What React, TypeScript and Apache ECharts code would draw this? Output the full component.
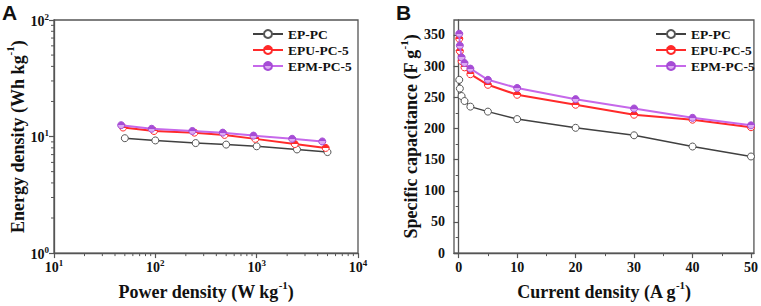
import React, { useEffect, useRef } from "react";
import * as echarts from "echarts";

// ---------- Panel A data (Ragone plot) ----------
const powerEP = [50, 100, 250, 500, 1000, 2500, 5000];
const energyEP = [9.68, 9.26, 8.79, 8.53, 8.25, 7.75, 7.36];
const powerEPU = [48, 97, 243, 482, 970, 2380, 4800];
const energyEPU = [11.95, 11.16, 10.8, 10.33, 9.55, 8.62, 7.99];
const powerEPM = [46, 92, 232, 463, 930, 2240, 4440];
const energyEPM = [12.52, 11.66, 11.16, 10.8, 10.19, 9.57, 9.08];
const minorTicksXA = [20, 30, 40, 50, 60, 70, 80, 90, 200, 300, 400, 500, 600, 700, 800, 900, 2000, 3000, 4000, 5000, 6000, 7000, 8000, 9000];
const minorTicksYA = [2, 3, 4, 5, 6, 7, 8, 9, 20, 30, 40, 50, 60, 70, 80, 90];

// ---------- Panel B data (rate capability) ----------
const currentB = [0.1, 0.2, 0.5, 1, 2, 5, 10, 20, 30, 40, 50];
const capEP = [278, 264, 252, 244, 235, 227, 215, 201, 189, 171, 155];
const capEPU = [344, 324, 308, 298, 287, 270, 254, 238, 222, 214, 202];
const capEPM = [352, 333, 314, 305, 296, 278, 265, 247, 232, 217, 205];
const xTicksB = [0, 10, 20, 30, 40, 50];
const xMinorB = [5, 15, 25, 35, 45];
const yTicksB = [0, 50, 100, 150, 200, 250, 300, 350];
const yMinorB = [25, 75, 125, 175, 225, 275, 325];

const names = ["EP-PC", "EPU-PC-5", "EPM-PC-5"];

const SERIF = "'Liberation Serif', 'Times New Roman', serif";
const AXIS = "#555";
const TXT = "#111";

function half(top: string, bottom: string) {
  return new echarts.graphic.LinearGradient(0, 0, 0, 1, [
    { offset: 0, color: top },
    { offset: 0.5, color: top },
    { offset: 0.5, color: bottom },
    { offset: 1, color: bottom },
  ]);
}

const styles = [
  { line: "#404040", width: 1.5, fill: "#ffffff", border: "#555555" },
  { line: "#ff2a2a", width: 2, fill: null as any, border: "#ff2a2a", top: "#ff2a2a", bottom: "#ffffff" },
  { line: "#c668ea", width: 2, fill: null as any, border: "#a64cd6", top: "#a64cd6", bottom: "#dcaaf2" },
];

function markerColor(i: number) {
  const s: any = styles[i];
  return s.fill ? s.fill : half(s.top, s.bottom);
}

const tickRich = {
  b: { fontFamily: SERIF, fontWeight: "bold", fontSize: 14, color: TXT, lineHeight: 16, verticalAlign: "bottom" },
  s: { fontFamily: SERIF, fontWeight: "bold", fontSize: 9, color: TXT, lineHeight: 9, verticalAlign: "top" },
};
const nameRich = {
  t: { fontFamily: SERIF, fontWeight: "bold", fontSize: 18, color: TXT, lineHeight: 22, verticalAlign: "bottom" },
  s: { fontFamily: SERIF, fontWeight: "bold", fontSize: 11, color: TXT, lineHeight: 11, verticalAlign: "top" },
};

const logLabel = (v: number) => `{b|10}{s|${Math.round(Math.log10(v))}}`;

export default function App() {
  const ref = useRef<HTMLDivElement>(null);
  useEffect(() => {
    document.body.style.margin = "0";
    if (!ref.current) return;
    const chart = echarts.init(ref.current, null, { renderer: "svg" });

    const pairs = (xs: number[], ys: number[]) => xs.map((x, i) => [x, ys[i]]);
    const dataA = [pairs(powerEP, energyEP), pairs(powerEPU, energyEPU), pairs(powerEPM, energyEPM)];
    const dataB = [pairs(currentB, capEP), pairs(currentB, capEPU), pairs(currentB, capEPM)];

    const lineSeries = (i: number, grid: number, data: number[][]) => ({
      type: "line",
      name: names[i],
      xAxisIndex: grid === 0 ? 0 : 1,
      yAxisIndex: grid === 0 ? 0 : 1,
      data,
      symbol: "circle",
      symbolSize: 7,
      showSymbol: true,
      lineStyle: { color: styles[i].line, width: styles[i].width },
      itemStyle: { color: markerColor(i), borderColor: styles[i].border, borderWidth: 1 },
      z: 3 + i,
    });

    const tickX = (ticks: number[]) => ({
      type: "custom",
      xAxisIndex: 0,
      yAxisIndex: 0,
      clip: false,
      silent: true,
      data: ticks.map((v) => [v, 1]),
      renderItem: (_p: any, api: any) => {
        const p = api.coord([api.value(0), 1]);
        return { type: "line", shape: { x1: p[0], y1: p[1], x2: p[0], y2: p[1] + 3 }, style: { stroke: AXIS, lineWidth: 1 } };
      },
    });
    const tickY = (ticks: number[]) => ({
      type: "custom",
      xAxisIndex: 0,
      yAxisIndex: 0,
      clip: false,
      silent: true,
      data: ticks.map((v) => [10, v]),
      renderItem: (_p: any, api: any) => {
        const p = api.coord([10, api.value(1)]);
        return { type: "line", shape: { x1: p[0] - 3, y1: p[1], x2: p[0], y2: p[1] }, style: { stroke: AXIS, lineWidth: 1 } };
      },
    });

    const axisLine = { show: true, lineStyle: { color: AXIS, width: 1.3 } };
    const legendCommon = {
      orient: "vertical",
      itemWidth: 30,
      itemHeight: 10,
      itemGap: 2,
      data: names,
      textStyle: { fontFamily: SERIF, fontWeight: "bold", fontSize: 13.5, color: TXT, lineHeight: 12.5 },
    };

    chart.setOption({
      animation: false,
      backgroundColor: "#fff",
      graphic: [
        { type: "text", left: 2, top: 2, style: { text: "A", font: "bold 21px 'Liberation Sans', Arial, sans-serif", fill: "#111" } },
        { type: "text", left: 396, top: 2, style: { text: "B", font: "bold 21px 'Liberation Sans', Arial, sans-serif", fill: "#111" } },
      ],
      legend: [
        { ...legendCommon, left: 247, top: 22 },
        { ...legendCommon, left: 650, top: 22 },
      ],
      grid: [
        { left: 54, top: 20, width: 304, height: 239, show: true, borderColor: AXIS, borderWidth: 1.3, backgroundColor: "transparent" },
        { left: 454, top: 20, width: 301, height: 240, show: true, borderColor: AXIS, borderWidth: 1.3, backgroundColor: "transparent" },
      ],
      xAxis: [
        {
          type: "log", gridIndex: 0, logBase: 10, min: 10, max: 10000,
          axisLine, splitLine: { show: false },
          axisTick: { show: true, inside: false, length: 5, lineStyle: { color: AXIS, width: 1.2 } },
          axisLabel: { formatter: logLabel, rich: tickRich, margin: 5 },
          name: "{t|Power density (W kg}{s|-1}{t|)}",
          nameLocation: "middle", nameGap: 21,
          nameTextStyle: { rich: nameRich },
        },
        {
          type: "value", gridIndex: 1, min: -0.8, max: 50.5,
          axisLine, splitLine: { show: false },
          axisTick: { show: true, inside: false, length: 5, customValues: xTicksB, lineStyle: { color: AXIS, width: 1.2 } },
          axisLabel: { customValues: xTicksB, fontFamily: SERIF, fontWeight: "bold", fontSize: 14, color: TXT, margin: 7 },
          name: "{t|Current density (A g}{s|-1}{t|)}",
          nameLocation: "middle", nameGap: 21,
          nameTextStyle: { rich: nameRich },
        },
        {
          type: "value", gridIndex: 1, min: -0.8, max: 50.5, position: "bottom",
          axisLine: { show: false }, splitLine: { show: false },
          axisTick: { show: true, inside: false, length: 3, customValues: xMinorB, lineStyle: { color: AXIS, width: 1 } },
          axisLabel: { show: false },
        },
      ],
      yAxis: [
        {
          type: "log", gridIndex: 0, logBase: 10, min: 1, max: 100,
          axisLine, splitLine: { show: false },
          axisTick: { show: true, inside: false, length: 5, lineStyle: { color: AXIS, width: 1.2 } },
          axisLabel: { formatter: logLabel, rich: tickRich, margin: 5 },
          name: "{t|Energy density (Wh kg}{s|-1}{t|)}",
          nameLocation: "middle", nameGap: 24, nameRotate: 90,
          nameTextStyle: { rich: nameRich },
        },
        {
          type: "value", gridIndex: 1, min: 0, max: 374,
          axisLine, splitLine: { show: false },
          axisTick: { show: true, inside: false, length: 5, customValues: yTicksB, lineStyle: { color: AXIS, width: 1.2 } },
          axisLabel: { customValues: yTicksB, fontFamily: SERIF, fontWeight: "bold", fontSize: 14, color: TXT, margin: 9 },
          name: "{t|Specific capacitance (F g}{s|-1}{t|)}",
          nameLocation: "middle", nameGap: 20, nameRotate: 90,
          nameTextStyle: { rich: nameRich },
        },
        {
          type: "value", gridIndex: 1, min: 0, max: 374, position: "left",
          axisLine: { show: false }, splitLine: { show: false },
          axisTick: { show: true, inside: false, length: 3, customValues: yMinorB, lineStyle: { color: AXIS, width: 1 } },
          axisLabel: { show: false },
        },
      ],
      series: [
        tickX(minorTicksXA),
        tickY(minorTicksYA),
        lineSeries(0, 0, dataA[0]),
        lineSeries(1, 0, dataA[1]),
        lineSeries(2, 0, dataA[2]),
        lineSeries(0, 1, dataB[0]),
        lineSeries(1, 1, dataB[1]),
        lineSeries(2, 1, dataB[2]),
      ],
    });
    return () => chart.dispose();
  }, []);
  return <div ref={ref} style={{ width: 761, height: 306 }} />;
}
